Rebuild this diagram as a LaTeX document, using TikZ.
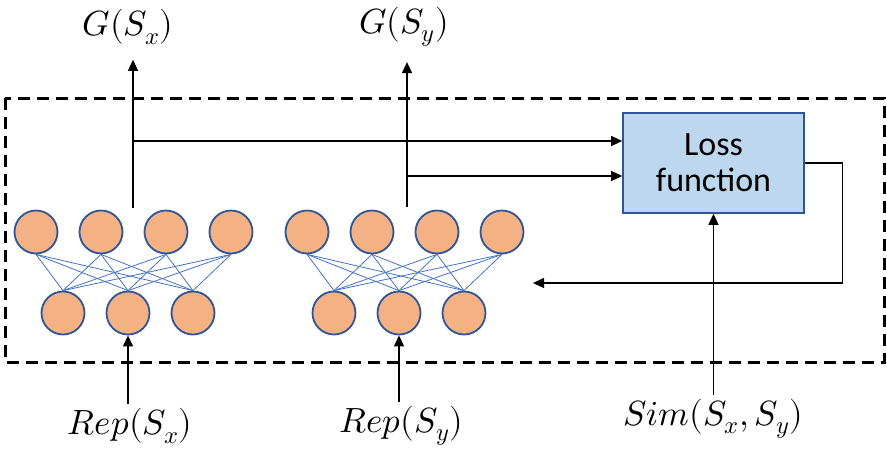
\documentclass[tikz,border=0pt]{standalone}
\usepackage{fontspec}
\usepackage{unicode-math}
\setmainfont{Carlito}
\setmathfont{Latin Modern Math}
\usepackage{tikz}
\usetikzlibrary{arrows.meta, positioning}

\definecolor{neuron}{HTML}{F4B183}
\definecolor{neuronline}{HTML}{2F5597}
\definecolor{wire}{HTML}{4472C4}
\definecolor{lossfill}{HTML}{BDD7EE}

\begin{document}
\begin{tikzpicture}[x=1pt, y=-1pt,
  unit/.style={circle, draw=neuronline, line width=1.8pt, fill=neuron, minimum size=43pt, inner sep=0pt},
  conn/.style={wire, line width=0.8pt},
  lossbox/.style={rectangle, draw=neuronline, line width=1.6pt, fill=lossfill, minimum width=181pt, minimum height=100pt, align=center, font=\fontsize{34}{40}\selectfont},
  lbl/.style={inner sep=4pt, font=\fontsize{35}{40}\selectfont},
  toplbl/.style={lbl, inner sep=15pt},
  arrow/.style={-{Triangle[length=11pt, width=10pt]}, line width=1.2pt}
]
  \useasboundingbox (0,0) rectangle (887,464);

  % dashed frame
  \draw[dashed, line width=3pt, dash pattern=on 12pt off 7pt] (5,98) rectangle (884,362);

  % left network
  \foreach \i/\x in {1/36, 2/101, 3/166, 4/231}
    \node[unit] (xt\i) at (\x,232) {};
  \foreach \j/\x in {1/63, 2/128, 3/193}
    \node[unit] (xb\j) at (\x,313) {};
  % right network
  \foreach \i/\x in {1/307, 2/372, 3/437, 4/502}
    \node[unit] (yt\i) at (\x,232) {};
  \foreach \j/\x in {1/334, 2/399, 3/464}
    \node[unit] (yb\j) at (\x,313) {};

  \foreach \i in {1,...,4}
    \foreach \j in {1,...,3} {
      \draw[conn] (xt\i.south) -- (xb\j.north);
      \draw[conn] (yt\i.south) -- (yb\j.north);
    }

  \node[lossbox] (loss) at (713.5,163) {Loss\\[-4pt]function};

  % labels
  \node[toplbl] (gx) at (128,27) {$G(S_x)$};
  \node[toplbl] (gy) at (404,27) {$G(S_y)$};
  \node[lbl] (repx) at (130,426) {$Rep(S_x)$};
  \node[lbl] (repy) at (401,426) {$Rep(S_y)$};
  \node[lbl] (sim) at (713,419) {$Sim(S_x,S_y)$};

  \coordinate (ox) at (133,208);
  \coordinate (oy) at (407,207);
  \coordinate (jx) at (133,141);
  \coordinate (jy) at (407,176);
  \coordinate (back) at (533,283);

  \draw[arrow] (ox) -- (ox |- gx.south);
  \draw[arrow] (oy) -- (oy |- gy.south);
  \draw[arrow] (jx) -- (jx -| loss.west);
  \draw[arrow] (jy) -- (jy -| loss.west);
  \draw[arrow] (loss.east) -- ++(38,0) |- (back);
  \draw[arrow] (loss.south |- sim.north) -- (loss.south);
  \draw[arrow] (xb2.south |- repx.north) -- (xb2.south);
  \draw[arrow] (yb2.south |- repy.north) -- (yb2.south);
\end{tikzpicture}
\end{document}
